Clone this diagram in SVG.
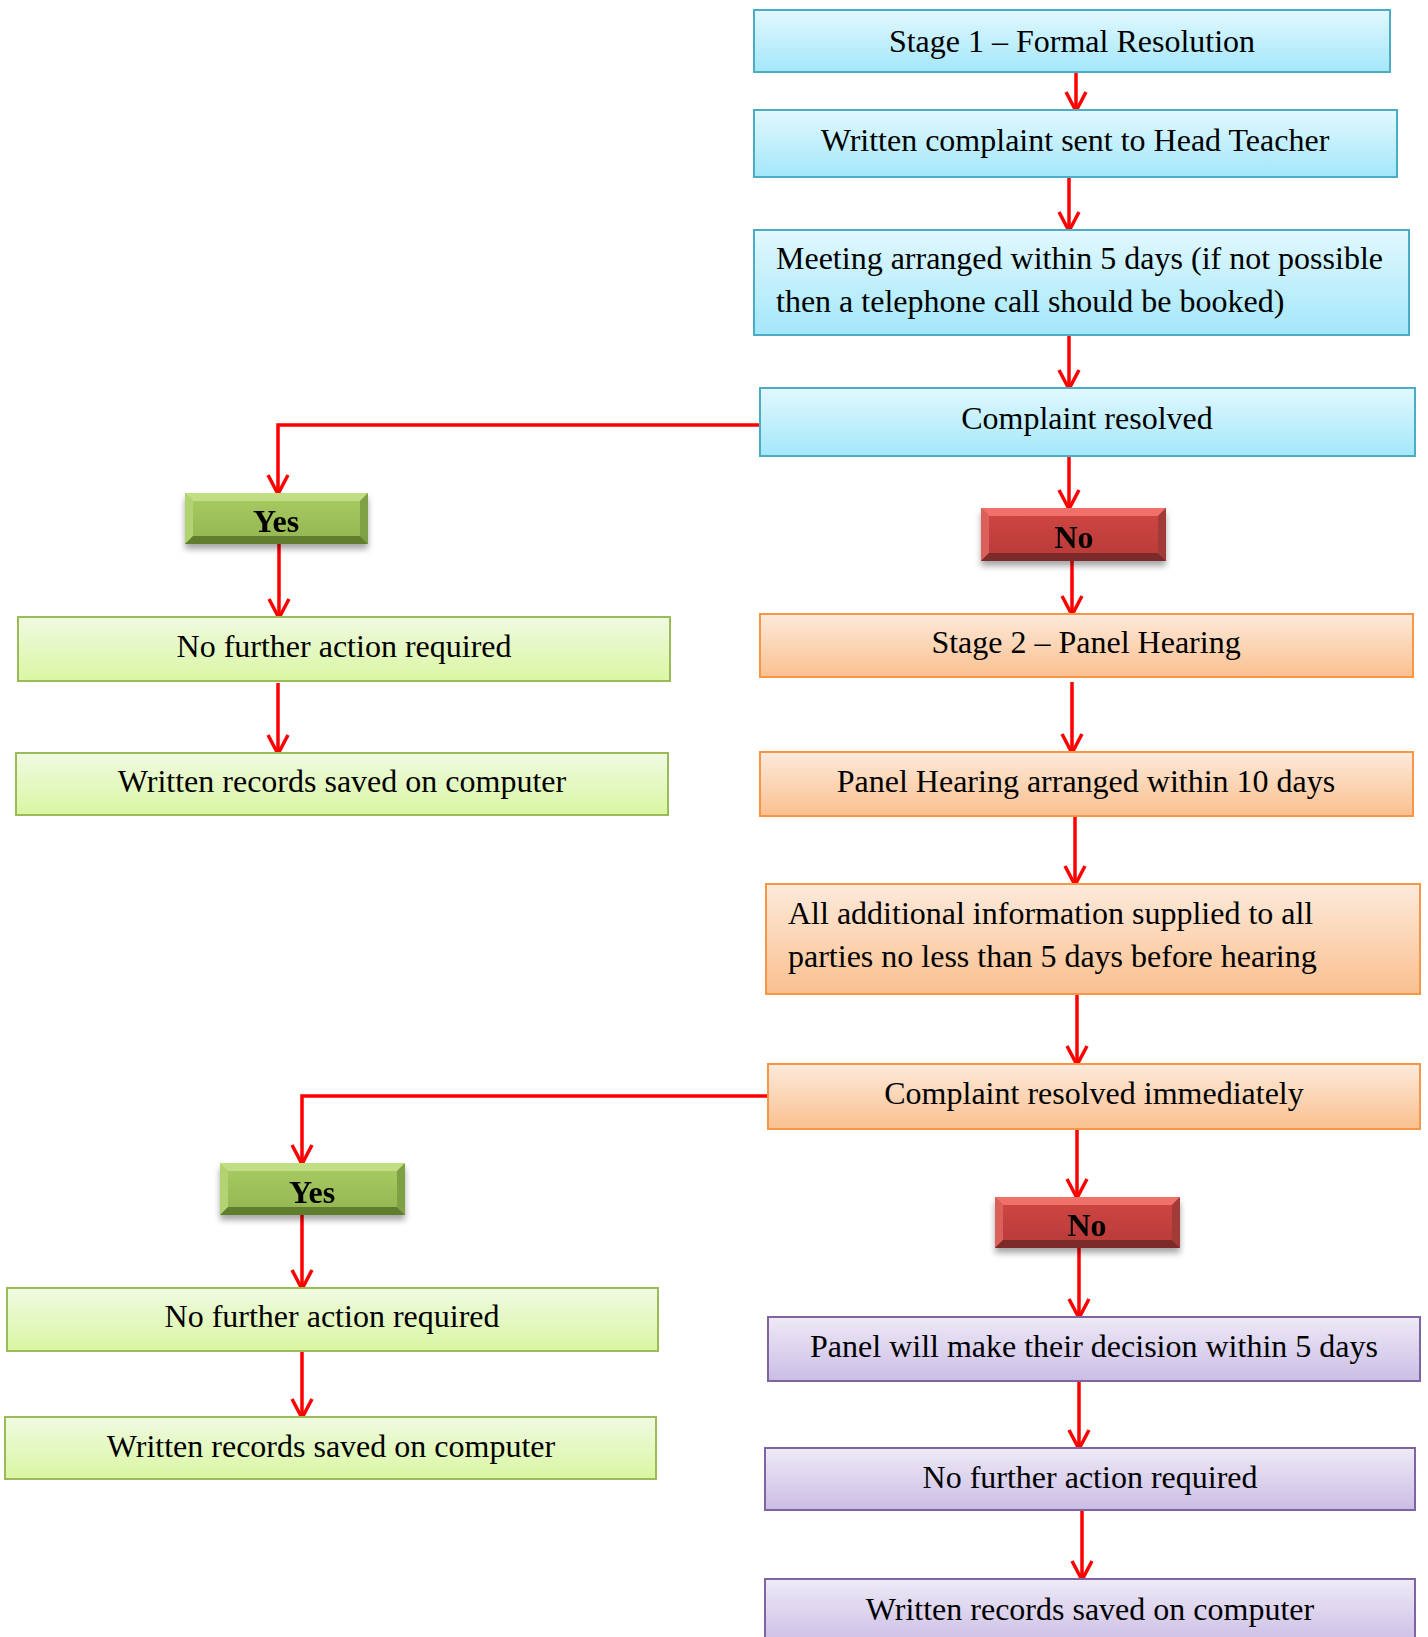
<svg xmlns="http://www.w3.org/2000/svg" width="1428" height="1637" viewBox="0 0 1428 1637">
<defs>
<linearGradient id="gBlue" x1="0" y1="0" x2="0" y2="1"><stop offset="0" stop-color="#E2F8FE"/><stop offset="1" stop-color="#A3E7FA"/></linearGradient>
<linearGradient id="gGreen" x1="0" y1="0" x2="0" y2="1"><stop offset="0" stop-color="#F0FAE2"/><stop offset="1" stop-color="#D9F6A2"/></linearGradient>
<linearGradient id="gOrange" x1="0" y1="0" x2="0" y2="1"><stop offset="0" stop-color="#FDEADB"/><stop offset="1" stop-color="#FAC08F"/></linearGradient>
<linearGradient id="gPurple" x1="0" y1="0" x2="0" y2="1"><stop offset="0" stop-color="#EEEAF6"/><stop offset="1" stop-color="#CBBDE5"/></linearGradient>
<linearGradient id="gYes" x1="0" y1="0" x2="0" y2="1"><stop offset="0" stop-color="#A9CC62"/><stop offset="1" stop-color="#93B552"/></linearGradient>
<linearGradient id="gNo" x1="0" y1="0" x2="0" y2="1"><stop offset="0" stop-color="#D04744"/><stop offset="1" stop-color="#B73A37"/></linearGradient>
<filter id="shadow" x="-10%" y="-20%" width="120%" height="160%"><feDropShadow dx="0" dy="5" stdDeviation="3" flood-color="#000" flood-opacity="0.35"/></filter>
<marker id="arr" viewBox="0 0 24 24" refX="21" refY="12" markerWidth="24" markerHeight="24" markerUnits="userSpaceOnUse" orient="auto">
<path d="M2,2 L21,12 L2,22" fill="none" stroke="#FF0000" stroke-width="3.5"/>
</marker>
<style>
.t{font-family:"Liberation Serif","Times New Roman",serif;font-size:32px;fill:#000;text-anchor:middle}
.tl{font-family:"Liberation Serif","Times New Roman",serif;font-size:32px;fill:#000}
.tb{font-family:"Liberation Serif","Times New Roman",serif;font-size:32px;font-weight:bold;fill:#000;text-anchor:middle}
.blue{fill:url(#gBlue);stroke:#4BACC6;stroke-width:2}
.green{fill:url(#gGreen);stroke:#9BBB59;stroke-width:2}
.orange{fill:url(#gOrange);stroke:#F79646;stroke-width:2}
.purple{fill:url(#gPurple);stroke:#8064A2;stroke-width:2}
.c{fill:none;stroke:#FF0000;stroke-width:3.5}
</style>
</defs>
<rect width="1428" height="1637" fill="#fff"/>

<g id="connectors">
<line class="c" x1="1076" y1="65" x2="1076" y2="111" marker-end="url(#arr)"/>
<line class="c" x1="1069" y1="177" x2="1069" y2="231" marker-end="url(#arr)"/>
<line class="c" x1="1069" y1="335" x2="1069" y2="389" marker-end="url(#arr)"/>
<line class="c" x1="1069" y1="456" x2="1069" y2="509" marker-end="url(#arr)"/>
<line class="c" x1="1072" y1="561" x2="1072" y2="615" marker-end="url(#arr)"/>
<polyline class="c" points="760,425 278,425 278,494" marker-end="url(#arr)"/>
<line class="c" x1="279" y1="544" x2="279" y2="618" marker-end="url(#arr)"/>
<line class="c" x1="278" y1="683" x2="278" y2="754" marker-end="url(#arr)"/>
<line class="c" x1="1072" y1="682" x2="1072" y2="753" marker-end="url(#arr)"/>
<line class="c" x1="1075" y1="816" x2="1075" y2="885" marker-end="url(#arr)"/>
<line class="c" x1="1077" y1="994" x2="1077" y2="1065" marker-end="url(#arr)"/>
<polyline class="c" points="768,1096 302,1096 302,1164" marker-end="url(#arr)"/>
<line class="c" x1="1077" y1="1129" x2="1077" y2="1198" marker-end="url(#arr)"/>
<line class="c" x1="1079" y1="1248" x2="1079" y2="1318" marker-end="url(#arr)"/>
<line class="c" x1="302" y1="1215" x2="302" y2="1289" marker-end="url(#arr)"/>
<line class="c" x1="302" y1="1351" x2="302" y2="1418" marker-end="url(#arr)"/>
<line class="c" x1="1079" y1="1381" x2="1079" y2="1449" marker-end="url(#arr)"/>
<line class="c" x1="1082" y1="1510" x2="1082" y2="1580" marker-end="url(#arr)"/>
</g>

<g id="stage1">
<rect class="blue" x="754" y="10" width="636" height="62"/>
<text class="t" x="1072" y="52">Stage 1 – Formal Resolution</text>
</g>
<g id="written-complaint">
<rect class="blue" x="754" y="110" width="643" height="67"/>
<text class="t" x="1075" y="151">Written complaint sent to Head Teacher</text>
</g>
<g id="meeting">
<rect class="blue" x="754" y="230" width="655" height="105"/>
<text class="tl" x="776" y="269">Meeting arranged within 5 days (if not possible</text>
<text class="tl" x="776" y="312">then a telephone call should be booked)</text>
</g>
<g id="complaint-resolved">
<rect class="blue" x="760" y="388" width="655" height="68"/>
<text class="t" x="1087" y="429">Complaint resolved</text>
</g>

<g id="yes1" filter="url(#shadow)">
<rect x="185" y="493" width="183" height="51" fill="url(#gYes)"/>
<polygon points="185,493 368,493 360,501 193,501" fill="#C2DE84"/>
<polygon points="185,493 193,501 193,536 185,544" fill="#B3D272"/>
<polygon points="368,493 368,544 360,536 360,501" fill="#80A044"/>
<polygon points="185,544 368,544 360,536 193,536" fill="#617E2F"/>
<text class="tb" x="276" y="532">Yes</text>
</g>
<g id="no1" filter="url(#shadow)">
<rect x="981" y="508" width="185" height="53" fill="url(#gNo)"/>
<polygon points="981,508 1166,508 1158,516 989,516" fill="#F0706B"/>
<polygon points="981,508 989,516 989,553 981,561" fill="#DB5E5A"/>
<polygon points="1166,508 1166,561 1158,553 1158,516" fill="#A13A37"/>
<polygon points="981,561 1166,561 1158,553 989,553" fill="#7D2C2A"/>
<text class="tb" x="1074" y="548">No</text>
</g>

<g id="no-action-1">
<rect class="green" x="18" y="617" width="652" height="64"/>
<text class="t" x="344" y="657">No further action required</text>
</g>
<g id="records-1">
<rect class="green" x="16" y="753" width="652" height="62"/>
<text class="t" x="342" y="792">Written records saved on computer</text>
</g>

<g id="stage2">
<rect class="orange" x="760" y="614" width="653" height="63"/>
<text class="t" x="1086" y="653">Stage 2 – Panel Hearing</text>
</g>
<g id="panel-hearing">
<rect class="orange" x="760" y="752" width="653" height="64"/>
<text class="t" x="1086" y="792">Panel Hearing arranged within 10 days</text>
</g>
<g id="additional-info">
<rect class="orange" x="766" y="884" width="654" height="110"/>
<text class="tl" x="788" y="924">All additional information supplied to all</text>
<text class="tl" x="788" y="967">parties no less than 5 days before hearing</text>
</g>
<g id="resolved-immediately">
<rect class="orange" x="768" y="1064" width="652" height="65"/>
<text class="t" x="1094" y="1104">Complaint resolved immediately</text>
</g>

<g id="yes2" filter="url(#shadow)">
<rect x="220" y="1163" width="185" height="52" fill="url(#gYes)"/>
<polygon points="220,1163 405,1163 397,1171 228,1171" fill="#C2DE84"/>
<polygon points="220,1163 228,1171 228,1207 220,1215" fill="#B3D272"/>
<polygon points="405,1163 405,1215 397,1207 397,1171" fill="#80A044"/>
<polygon points="220,1215 405,1215 397,1207 228,1207" fill="#617E2F"/>
<text class="tb" x="312" y="1203">Yes</text>
</g>
<g id="no2" filter="url(#shadow)">
<rect x="995" y="1197" width="185" height="51" fill="url(#gNo)"/>
<polygon points="995,1197 1180,1197 1172,1205 1003,1205" fill="#F0706B"/>
<polygon points="995,1197 1003,1205 1003,1240 995,1248" fill="#DB5E5A"/>
<polygon points="1180,1197 1180,1248 1172,1240 1172,1205" fill="#A13A37"/>
<polygon points="995,1248 1180,1248 1172,1240 1003,1240" fill="#7D2C2A"/>
<text class="tb" x="1087" y="1236">No</text>
</g>

<g id="no-action-2">
<rect class="green" x="7" y="1288" width="651" height="63"/>
<text class="t" x="332" y="1327">No further action required</text>
</g>
<g id="records-2">
<rect class="green" x="5" y="1417" width="651" height="62"/>
<text class="t" x="331" y="1457">Written records saved on computer</text>
</g>

<g id="panel-decision">
<rect class="purple" x="768" y="1317" width="652" height="64"/>
<text class="t" x="1094" y="1357">Panel will make their decision within 5 days</text>
</g>
<g id="no-action-3">
<rect class="purple" x="765" y="1448" width="650" height="62"/>
<text class="t" x="1090" y="1488">No further action required</text>
</g>
<g id="records-3">
<rect class="purple" x="765" y="1579" width="650" height="66"/>
<text class="t" x="1090" y="1620">Written records saved on computer</text>
</g>
</svg>
